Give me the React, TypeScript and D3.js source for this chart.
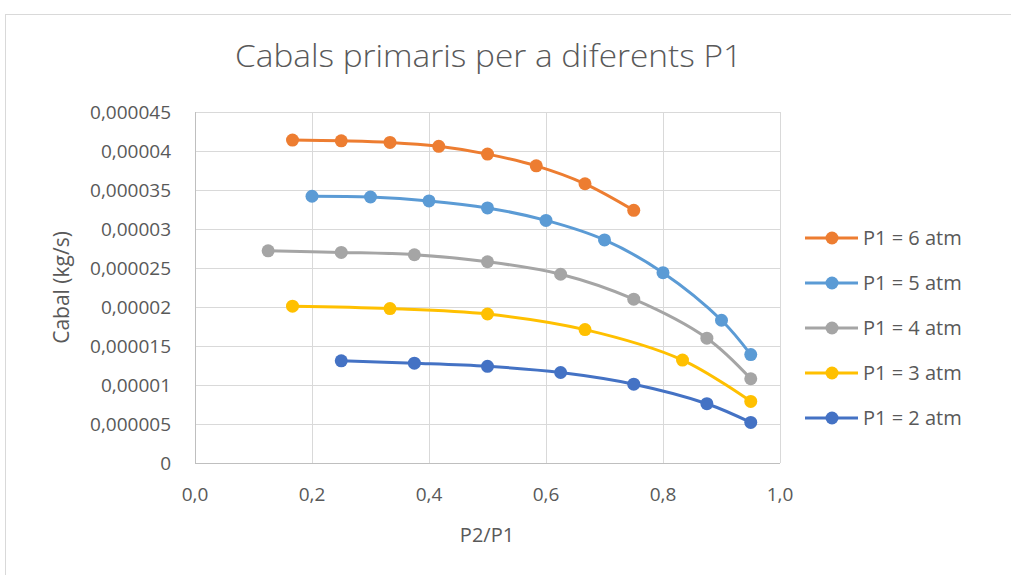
import React from "react";
import * as d3 from "d3";

// P2/P1 ratios and mass flow (kg/s) for each inlet pressure P1
const ratio6 = [1 / 6, 1.5 / 6, 2 / 6, 2.5 / 6, 3 / 6, 3.5 / 6, 4 / 6, 4.5 / 6];
const flow6 = [4.14e-5, 4.13e-5, 4.11e-5, 4.06e-5, 3.96e-5, 3.81e-5, 3.58e-5, 3.24e-5];

const ratio5 = [0.2, 0.3, 0.4, 0.5, 0.6, 0.7, 0.8, 0.9, 0.95];
const flow5 = [3.42e-5, 3.41e-5, 3.36e-5, 3.27e-5, 3.11e-5, 2.86e-5, 2.44e-5, 1.83e-5, 1.39e-5];

const ratio4 = [0.125, 0.25, 0.375, 0.5, 0.625, 0.75, 0.875, 0.95];
const flow4 = [2.72e-5, 2.7e-5, 2.67e-5, 2.58e-5, 2.42e-5, 2.1e-5, 1.6e-5, 1.08e-5];

const ratio3 = [0.5 / 3, 1 / 3, 1.5 / 3, 2 / 3, 2.5 / 3, 0.95];
const flow3 = [2.01e-5, 1.98e-5, 1.91e-5, 1.71e-5, 1.32e-5, 7.9e-6];

const ratio2 = [0.25, 0.375, 0.5, 0.625, 0.75, 0.875, 0.95];
const flow2 = [1.31e-5, 1.28e-5, 1.24e-5, 1.16e-5, 1.01e-5, 7.6e-6, 5.2e-6];

const seriesNames = ["P1 = 6 atm", "P1 = 5 atm", "P1 = 4 atm", "P1 = 3 atm", "P1 = 2 atm"];
const seriesColors = ["#ED7D31", "#5B9BD5", "#A5A5A5", "#FFC000", "#4472C4"];
const seriesRatios = [ratio6, ratio5, ratio4, ratio3, ratio2];
const seriesFlows = [flow6, flow5, flow4, flow3, flow2];

const xTicks = [0, 0.2, 0.4, 0.6, 0.8, 1.0];
const xTickLabels = ["0,0", "0,2", "0,4", "0,6", "0,8", "1,0"];
const yTicks = [0, 5e-6, 1e-5, 1.5e-5, 2e-5, 2.5e-5, 3e-5, 3.5e-5, 4e-5, 4.5e-5];
const yTickLabels = [
  "0",
  "0,000005",
  "0,00001",
  "0,000015",
  "0,00002",
  "0,000025",
  "0,00003",
  "0,000035",
  "0,00004",
  "0,000045",
];

const W = 1011;
const H = 575;
const plot = { left: 195, right: 780, top: 112, bottom: 463 };
const FONT = "'Open Sans', 'Noto Sans', sans-serif";
const TEXT = "#595959";
const GRID = "#d9d9d9";

export default function App() {
  const x = d3.scaleLinear().domain([0, 1]).range([plot.left, plot.right]);
  const y = d3.scaleLinear().domain([0, 4.5e-5]).range([plot.bottom, plot.top]);

  const line = d3
    .line<[number, number]>()
    .x((d) => x(d[0]))
    .y((d) => y(d[1]))
    .curve(d3.curveCatmullRom.alpha(0.5));

  const series = seriesNames.map((name, i) => ({
    name,
    color: seriesColors[i],
    points: seriesRatios[i].map((r, j) => [r, seriesFlows[i][j]] as [number, number]),
  }));

  const legendX = 805;
  const legendY0 = 238;
  const legendStep = 45;

  return (
    <svg
      width={W}
      height={H}
      style={{ position: "absolute", left: 0, top: 0, background: "#fff" }}
      fontFamily={FONT}
    >
      <rect x={0} y={0} width={W} height={H} fill="#fff" />
      <rect x={5.5} y={14.5} width={W + 20} height={H + 20} fill="none" stroke={GRID} strokeWidth={1} />

      <text
        x={235}
        y={67}
        fontSize={31}
        fill={TEXT}
        fontWeight={300}
        textLength={507}
        lengthAdjust="spacingAndGlyphs"
      >
        Cabals primaris per a diferents P1
      </text>

      {/* grid */}
      {yTicks.map((t) => (
        <line
          key={"gy" + t}
          x1={plot.left}
          x2={plot.right}
          y1={Math.round(y(t)) + 0.5}
          y2={Math.round(y(t)) + 0.5}
          stroke={t === 0 ? "#bfbfbf" : GRID}
          strokeWidth={1}
        />
      ))}
      {xTicks.map((t) => (
        <line
          key={"gx" + t}
          x1={Math.round(x(t)) + 0.5}
          x2={Math.round(x(t)) + 0.5}
          y1={plot.top}
          y2={plot.bottom}
          stroke={t === 0 ? "#bfbfbf" : GRID}
          strokeWidth={1}
        />
      ))}

      {/* axis labels */}
      {yTicks.map((t, i) => (
        <text
          key={"ly" + t}
          x={171}
          y={y(t)}
          dy="0.36em"
          textAnchor="end"
          fontSize={19}
          fill={TEXT}
        >
          {yTickLabels[i]}
        </text>
      ))}
      {xTicks.map((t, i) => (
        <text key={"lx" + t} x={x(t)} y={501} textAnchor="middle" fontSize={19} fill={TEXT}>
          {xTickLabels[i]}
        </text>
      ))}

      <text x={487} y={542} textAnchor="middle" fontSize={20} fill={TEXT}>
        P2/P1
      </text>
      <text
        transform={`translate(69, ${(plot.top + plot.bottom) / 2}) rotate(-90)`}
        textAnchor="middle"
        fontSize={21}
        fill={TEXT}
      >
        Cabal (kg/s)
      </text>

      {/* series */}
      {series
        .slice()
        .reverse()
        .map((s) => (
          <g key={s.name}>
            <path d={line(s.points) || ""} fill="none" stroke={s.color} strokeWidth={3} />
            {s.points.map((p, j) => (
              <circle key={j} cx={x(p[0])} cy={y(p[1])} r={6.5} fill={s.color} />
            ))}
          </g>
        ))}

      {/* legend */}
      {series.map((s, i) => {
        const ly = legendY0 + i * legendStep;
        return (
          <g key={"leg" + s.name}>
            <line x1={legendX} x2={legendX + 53} y1={ly} y2={ly} stroke={s.color} strokeWidth={3} />
            <circle cx={legendX + 27} cy={ly} r={6.5} fill={s.color} />
            <text x={legendX + 58} y={ly} dy="0.36em" fontSize={20} fill={TEXT}>
              {s.name}
            </text>
          </g>
        );
      })}
    </svg>
  );
}
